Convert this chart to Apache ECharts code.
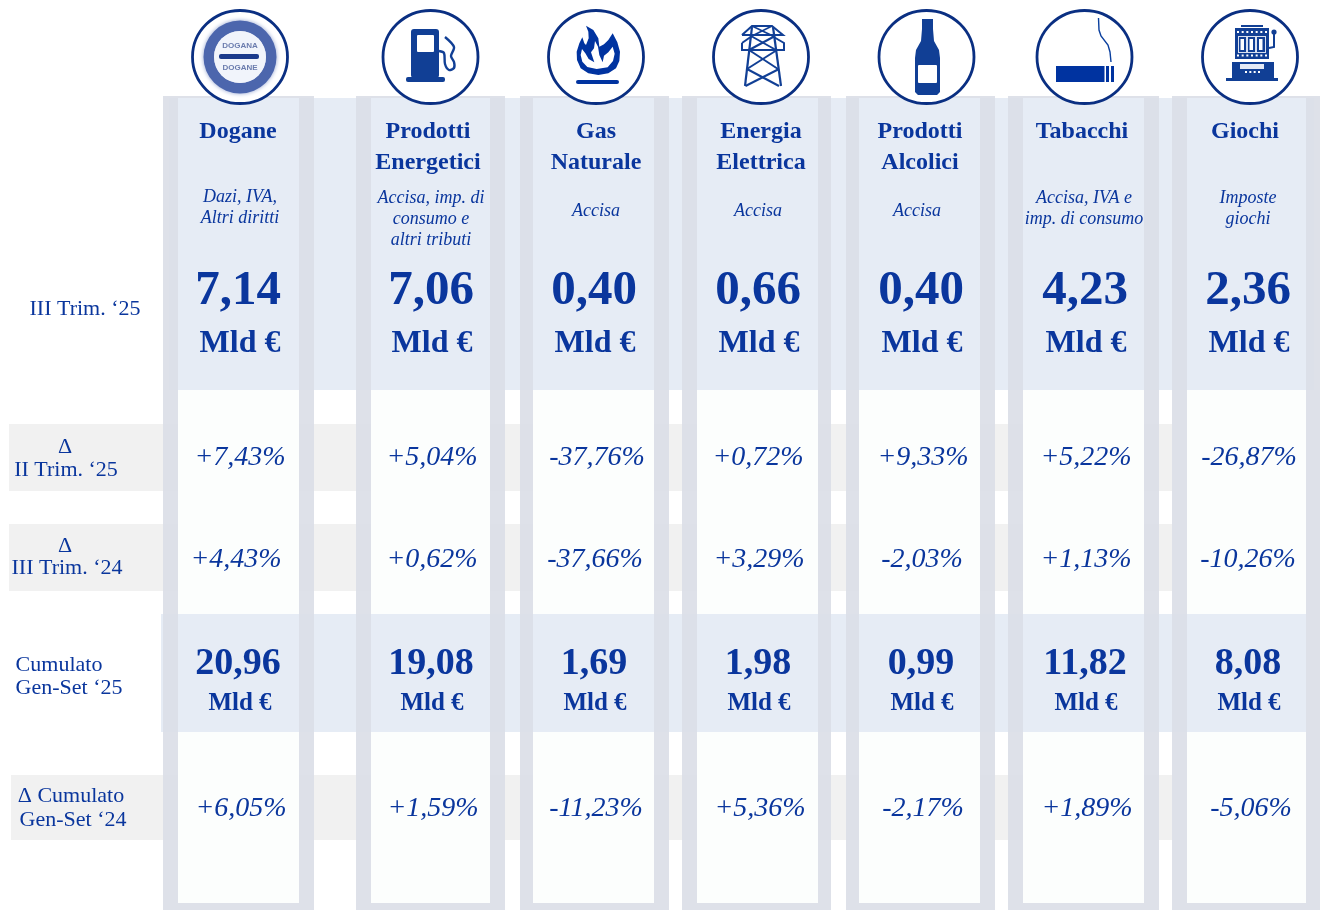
<!DOCTYPE html>
<html>
<head>
<meta charset="utf-8">
<title>Entrate tributarie</title>
<script src="https://cdn.jsdelivr.net/npm/echarts@6/dist/echarts.min.js"></script>
<style>
  html, body { margin: 0; padding: 0; background: #fff; }
  #chart { width: 1320px; height: 910px; }
</style>
</head>
<body>
<div id="chart"></div>
<script>
// --- data ---
const categories = ['Dogane', 'Prodotti\nEnergetici', 'Gas\nNaturale', 'Energia\nElettrica', 'Prodotti\nAlcolici', 'Tabacchi', 'Giochi'];
const taxNotes = ['Dazi, IVA,\nAltri diritti', 'Accisa, imp. di\nconsumo e\naltri tributi', 'Accisa', 'Accisa', 'Accisa', 'Accisa, IVA e\nimp. di consumo', 'Imposte\ngiochi'];
const quarterValues = [7.14, 7.06, 0.40, 0.66, 0.40, 4.23, 2.36];
const deltaPrevQuarter = [7.43, 5.04, -37.76, 0.72, 9.33, 5.22, -26.87];
const deltaPrevYear = [4.43, 0.62, -37.66, 3.29, -2.03, 1.13, -10.26];
const cumulatedValues = [20.96, 19.08, 1.69, 1.98, 0.99, 11.82, 8.08];
const deltaCumulated = [6.05, 1.59, -11.23, 5.36, -2.17, 1.89, -5.06];
const unitLabel = 'Mld €';

// --- layout (axes below run 1:1 with the 1320x910 canvas) ---
const colOuter = [[163, 314], [356, 505], [520, 669], [682, 831], [846, 995], [1008, 1159], [1172, 1320]];
const colInner = [[178, 299], [371, 490], [533, 654], [697, 818], [859, 980], [1023, 1144], [1187, 1306]];
const greyRows = [[9, 424, 491], [9, 524, 591], [11, 775, 840]];
const ringCx = [240, 430.5, 596, 761, 926.5, 1084.5, 1250];

const headerX = [238, 428, 596, 761, 920, 1082, 1245];
const noteX = [240, 431, 596, 758, 917, 1084, 1248];
const noteY = [207.5, 219, 211.5, 211.5, 211.5, 208.5, 208.5];
const bigX = [238, 431, 594, 758, 921, 1085, 1248];
const unitX = [240, 432, 595, 759, 922, 1086, 1249];
const deltaX1 = [240, 432, 597, 758, 923, 1086, 1249];
const deltaX2 = [236, 432, 595, 759, 922, 1086, 1248];
const deltaX3 = [241, 433, 596, 760, 923, 1087, 1251];

const INK = '#0a369d';
const ICON = '#113f95';
const RING = '#0a2f82';
const SERIF = '"Liberation Serif", serif';

const fmtNum = v => v.toFixed(2).replace('.', ',');
const fmtPct = v => (v >= 0 ? '+' : '-') + fmtNum(Math.abs(v)) + '%';

// — text rows are scatter points with an invisible symbol and a label —
function textRow(name, pts, font) {
  return {
    type: 'scatter',
    name,
    z: 10,
    silent: true,
    symbolSize: 1,
    // scatter defaults to opacity 0.8, which also washes out the label
    itemStyle: { color: 'transparent', opacity: 1 },
    data: pts.map(p => ({ value: [p[0], p[1]], name: p[2] })),
    label: Object.assign({
      show: true,
      position: 'inside',
      formatter: o => o.name,
      fontFamily: SERIF,
      color: INK,
      align: 'center',
      verticalAlign: 'middle'
    }, font)
  };
}

function rowOf(xs, y, texts) {
  return xs.map((x, i) => [x, Array.isArray(y) ? y[i] : y, texts[i]]);
}

// — rectangles through the axes —
function rectSeries(name, z, rects, fill) {
  return {
    type: 'custom',
    name,
    z,
    silent: true,
    coordinateSystem: 'cartesian2d',
    data: rects,
    renderItem: (params, api) => {
      const a = api.coord([api.value(0), api.value(1)]);
      const b = api.coord([api.value(2), api.value(3)]);
      return { type: 'rect', shape: { x: a[0], y: a[1], width: b[0] - a[0], height: b[1] - a[1] }, style: { fill } };
    }
  };
}

// — icons, drawn from small shapes in canvas pixels —
const shift = (ox, oy, k, pts) => pts.map(p => [ox + p[0] / k, oy + p[1] / k]);
const rect = (x, y, width, height, fill, r) => ({ type: 'rect', shape: { x, y, width, height, r: r || 0 }, style: { fill } });
const poly = (points, fill, smooth) => ({ type: 'polygon', shape: { points, smooth: smooth || 0 }, style: { fill } });
const wire = (points, stroke, lineWidth, smooth) => ({ type: 'polyline', shape: { points, smooth: smooth || 0 }, style: { fill: 'none', stroke, lineWidth } });
const dots = (x0, x1, n, y, size, fill) => Array.from({ length: n }, (_, i) => rect(x0 + (x1 - x0) * i / (n - 1), y, size, size, fill));

const iconShapes = [
  // dogane badge
  [
    { type: 'ring', shape: { cx: 240, cy: 57, r: 36.5, r0: 26 }, style: { fill: '#4c66ad', shadowBlur: 4, shadowColor: '#8fa0cf' } },
    { type: 'circle', shape: { cx: 240, cy: 57, r: 26 }, style: { fill: '#f1f4fb' } },
    { type: 'text', style: { x: 240, y: 46, text: 'DOGANA', fontSize: 8, fontWeight: 'bold', fontFamily: 'Liberation Sans', fill: '#6b7cae', align: 'center', verticalAlign: 'middle' } },
    rect(219, 54, 40, 5, '#1b3a8c', 2),
    { type: 'text', style: { x: 240, y: 68, text: 'DOGANE', fontSize: 8, fontWeight: 'bold', fontFamily: 'Liberation Sans', fill: '#6b7cae', align: 'center', verticalAlign: 'middle' } }
  ],
  // fuel pump
  [
    rect(411, 29, 28, 49, ICON, 3),
    rect(406, 77, 39, 5, ICON, 2),
    rect(417, 35, 17, 17, '#fff', 1),
    wire([[439, 51], [444, 53], [445, 64], [449, 70], [454, 68], [454, 62], [451, 56], [454, 47], [445, 37]], ICON, 2.4, 0.3)
  ],
  // flame
  [
    poly(shift(540, 5, 3, [[138, 62], [160, 75], [175, 100], [178, 125], [192, 118], [205, 105], [218, 85], [232, 112], [240, 140], [238, 168], [228, 190], [205, 205], [175, 210], [145, 205], [122, 190], [111, 165], [110, 140], [118, 115], [127, 97], [133, 115], [138, 120], [146, 100], [145, 80]]), '#0033a0'),
    poly(shift(540, 5, 3, [[126, 132], [122, 150], [127, 170], [142, 186], [170, 192], [203, 187], [219, 168], [224, 146], [218, 125], [205, 142], [192, 152], [188, 172], [178, 150], [174, 125], [165, 108], [162, 130], [153, 142], [163, 172], [146, 162], [136, 145]]), '#fff'),
    rect(576, 80, 43, 4, '#0033a0', 2)
  ],
  // pylon
  [
    wire([[745, 86], [752, 27]], ICON, 2.2),
    wire([[781, 86], [773, 27]], ICON, 2.2),
    wire([[747, 69], [779, 86]], ICON, 2),
    wire([[779, 69], [745.5, 86]], ICON, 2),
    wire([[749, 50], [778, 69]], ICON, 2),
    wire([[777, 50], [747, 69]], ICON, 2),
    wire([[751, 36], [776, 50]], ICON, 2),
    wire([[775, 36], [749, 50]], ICON, 2),
    wire([[742, 35], [752, 26], [772, 26], [783, 35], [742, 35]], ICON, 2),
    wire([[742, 43], [742, 50], [784, 50], [784, 43], [772, 36]], ICON, 2),
    wire([[742, 43], [752, 36]], ICON, 2),
    wire([[752, 26], [773, 36]], ICON, 1.6),
    wire([[772, 26], [752, 36]], ICON, 1.6)
  ],
  // bottle
  [
    poly([[922, 19], [933, 19], [933, 29], [934, 41], [939, 50], [940, 58], [940, 92], [937, 95], [918, 95], [915, 92], [915, 58], [916, 50], [921, 41], [922, 29]], ICON),
    rect(918, 65, 19, 18, '#fff', 1)
  ],
  // cigarette
  [
    rect(1056, 66, 48.5, 16, '#0033a0'),
    rect(1106, 66, 3, 16, '#0033a0'),
    rect(1111, 66, 3, 16, '#0033a0'),
    wire([[1098.5, 18], [1099, 30], [1101, 36], [1108, 45], [1110, 52], [1111, 62]], '#0a3f9e', 1.4)
  ],
  // slot machine
  [
    rect(1241, 25, 22, 2, ICON),
    rect(1235, 28, 34, 31, ICON),
    ...dots(1237, 1265, 7, 31, 2, '#fff'),
    rect(1238, 36, 28, 17, '#d8e0f0'),
    rect(1239, 37, 7, 15, ICON),
    rect(1248, 37, 7, 15, ICON),
    rect(1257, 37, 8, 15, ICON),
    rect(1240.5, 39, 3.5, 11, '#fff'),
    rect(1249.5, 39, 3.5, 11, '#fff'),
    rect(1259, 39, 3.5, 11, '#fff'),
    ...dots(1237, 1265, 7, 54.5, 2, '#fff'),
    { type: 'circle', shape: { cx: 1274, cy: 32, r: 2.6 }, style: { fill: ICON } },
    wire([[1274, 33], [1274, 47], [1269, 48]], ICON, 2),
    rect(1232, 62, 42, 16, ICON),
    rect(1240, 64, 24, 5, '#e4e9f5'),
    ...dots(1245, 1258, 4, 71, 2, '#fff'),
    rect(1226, 78, 52, 3, ICON)
  ]
];

const iconSeries = {
  type: 'custom',
  name: 'icons',
  z: 8,
  silent: true,
  coordinateSystem: 'cartesian2d',
  data: ringCx.map(x => [x, 57]),
  renderItem: (params, api) => {
    const c = api.coord([api.value(0), api.value(1)]);
    return {
      type: 'group',
      children: [
        { type: 'ellipse', shape: { cx: c[0], cy: c[1], rx: 47.5, ry: 46.5 }, style: { fill: '#fff', stroke: RING, lineWidth: 2.8 } },
        ...iconShapes[params.dataIndex]
      ]
    };
  }
};

const chart = echarts.init(document.getElementById('chart'), null, { renderer: 'canvas' });

chart.setOption({
  animation: false,
  backgroundColor: '#fff',
  grid: { left: 0, right: 0, top: 0, bottom: 0 },
  xAxis: { type: 'value', min: 0, max: 1320, show: false },
  yAxis: { type: 'value', min: 0, max: 910, inverse: true, show: false },
  series: [
    // — backgrounds —
    rectSeries('grey rows', 1, greyRows.map(r => [r[0], r[1], 1172, r[2]]), '#f1f1f1'),
    rectSeries('top band', 2, [[169, 98, 1314, 390]], '#e6ecf5'),
    rectSeries('cumulated band', 2, [[161, 614, 1306, 732]], '#e6ecf5'),
    rectSeries('col border', 3, colOuter.map(c => [c[0], 96, c[1], 910]), 'rgba(219,222,231,0.92)'),
    rectSeries('col top', 4, colInner.map(c => [c[0], 98, c[1], 390]), '#e6ecf5'),
    rectSeries('col body', 4, colInner.map(c => [c[0], 390, c[1], 903]), '#fcfefd'),
    rectSeries('col cumulated', 5, colInner.map(c => [c[0], 614, c[1], 732]), '#e6ecf5'),
    iconSeries,

    // — column heads —
    textRow('header', rowOf(headerX, categories.map(c => c.includes('\n') ? 147.5 : 132), categories), { fontSize: 24, fontWeight: 'bold', lineHeight: 31 }),
    textRow('notes', rowOf(noteX, noteY, taxNotes), { fontSize: 18, fontStyle: 'italic', lineHeight: 21 }),

    // — III trimestre —
    textRow('quarter', rowOf(bigX, 291, quarterValues.map(fmtNum)), { fontSize: 49, fontWeight: 'bold' }),
    textRow('quarter unit', rowOf(unitX, 344, quarterValues.map(() => unitLabel)), { fontSize: 32, fontWeight: 'bold' }),

    // — variazioni —
    textRow('delta q', rowOf(deltaX1, 458, deltaPrevQuarter.map(fmtPct)), { fontSize: 28, fontStyle: 'italic' }),
    textRow('delta y', rowOf(deltaX2, 560, deltaPrevYear.map(fmtPct)), { fontSize: 28, fontStyle: 'italic' }),

    // — cumulato —
    textRow('cumulated', rowOf(bigX, 664, cumulatedValues.map(fmtNum)), { fontSize: 38, fontWeight: 'bold' }),
    textRow('cumulated unit', rowOf(unitX, 704, cumulatedValues.map(() => unitLabel)), { fontSize: 25, fontWeight: 'bold' }),
    textRow('delta cum', rowOf(deltaX3, 809, deltaCumulated.map(fmtPct)), { fontSize: 28, fontStyle: 'italic' }),

    // — row labels —
    textRow('row labels', [
      [85, 309, 'III Trim. ‘25'],
      [65, 447, 'Δ'],
      [66, 470, 'II Trim. ‘25'],
      [65, 546, 'Δ'],
      [67, 568, 'III Trim. ‘24'],
      [59, 665, 'Cumulato'],
      [69, 688, 'Gen-Set ‘25'],
      [71, 796, 'Δ Cumulato'],
      [73, 820, 'Gen-Set ‘24']
    ], { fontSize: 22, fontWeight: 'normal' })
  ]
});

window.addEventListener('resize', () => chart.resize());
</script>
</body>
</html>
